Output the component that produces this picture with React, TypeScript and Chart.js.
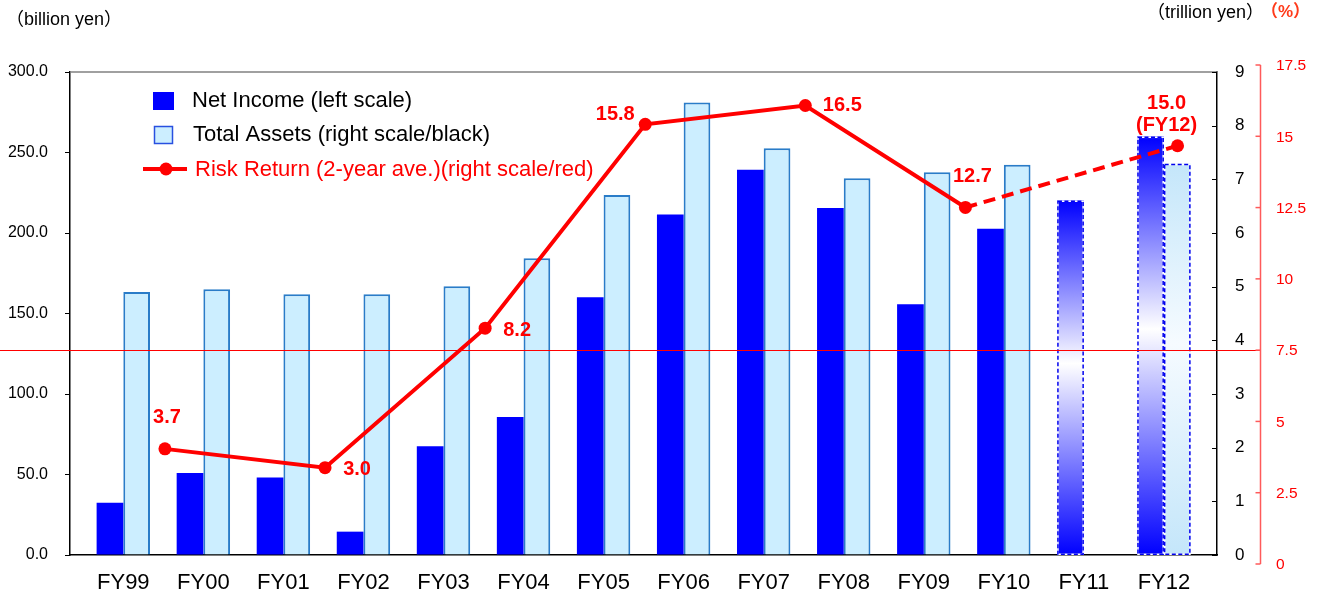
import { useEffect, useRef } from 'react';
import { Chart, registerables } from 'chart.js';

Chart.register(...registerables);

// ---- data ----
const categories = ['FY99', 'FY00', 'FY01', 'FY02', 'FY03', 'FY04', 'FY05', 'FY06', 'FY07', 'FY08', 'FY09', 'FY10', 'FY11', 'FY12'];
// Net income, billion yen (left scale)
const netIncome = [32.4, 51.0, 48.1, 14.5, 67.5, 85.7, 160.1, 211.5, 239.3, 215.6, 155.8, 202.6, 220.2, 259.9];
// Total assets, trillion yen (right scale / black)
const totalAssets = [4.9, 4.95, 4.86, 4.86, 5.01, 5.53, 6.71, 8.43, 7.58, 7.02, 7.13, 7.27, null, 7.29];
// FY11 onward are plan figures
const planFromIndex = 12;
// Risk return (2-year average), % — placed between the two fiscal years averaged
const riskX = [0.52, 2.52, 4.52, 6.52, 8.52, 10.52, 13.17];
const riskReturn = [3.7, 3.0, 8.2, 15.8, 16.5, 12.7, 15.0];
const riskLabels = [['3.7'], ['3.0'], ['8.2'], ['15.8'], ['16.5'], ['12.7'], ['15.0', '(FY12)']];
// Red % axis
const percentTicks = [0, 2.5, 5, 7.5, 10, 12.5, 15, 17.5];
const percentMax = 17.5;
const percentBenchmark = 7.5;

// ---- presentation ----
const FONT = '"Liberation Sans", Arial, "Noto Sans CJK JP", sans-serif';
const labelOffsets: [number, number][] = [[2, -31], [32, 2], [32, 2], [-30, -10], [37, 0], [7, -31], [-11, -42]];

function planFill(c: any, axis: string, edge: string, mid: string) {
  const chart = c.chart;
  const raw = c.raw as { y: number | null } | undefined;
  if (!chart.chartArea || !raw || raw.y == null) return edge;
  const s = chart.scales[axis];
  const top = s.getPixelForValue(raw.y);
  const bottom = s.getPixelForValue(0);
  const g = chart.ctx.createLinearGradient(0, top, 0, bottom);
  g.addColorStop(0, edge);
  g.addColorStop(0.46, mid);
  g.addColorStop(1, edge);
  return g;
}

function percentPixel(area: any, v: number) {
  const zero = area.bottom + 9;
  const top = area.top - 7;
  return zero - (v / percentMax) * (zero - top);
}

const overlay = {
  id: 'overlay',
  beforeDatasetDraw(chart: any, args: any) {
    if (args.meta.type !== 'line') return;
    const { ctx, chartArea: area } = chart;
    const y = Math.round(percentPixel(area, percentBenchmark)) + 0.5;
    ctx.save();
    ctx.strokeStyle = '#ff0000';
    ctx.lineWidth = 1;
    ctx.beginPath();
    ctx.moveTo(0, y);
    ctx.lineTo(area.right + 43, y);
    ctx.stroke();
    ctx.restore();
  },
  afterDatasetDraw(chart: any, args: any) {
    if (args.meta.type !== 'bar') return;
    const { ctx } = chart;
    const ds = chart.data.datasets[args.index];
    args.meta.data.forEach((el: any, i: number) => {
      if (i < planFromIndex) return;
      const raw = ds.data[i];
      if (!raw || raw.y == null) return;
      const { x, y, base, width } = el.getProps(['x', 'y', 'base', 'width'], true);
      const l = x - width / 2 + 0.75;
      const r = x + width / 2 - 0.75;
      ctx.save();
      ctx.lineWidth = 1.5;
      ctx.strokeStyle = '#ffffff';
      ctx.strokeRect(l, y + 0.75, r - l, base - y - 1);
      ctx.setLineDash([4, 2.5]);
      ctx.strokeStyle = '#0000ee';
      ctx.strokeRect(l, y + 0.75, r - l, base - y - 1);
      ctx.restore();
    });
  },
  afterDraw(chart: any) {
    const { ctx, chartArea: area } = chart;
    ctx.save();

    // top frame line
    ctx.strokeStyle = '#808080';
    ctx.lineWidth = 1.5;
    ctx.beginPath();
    ctx.moveTo(area.left, area.top);
    ctx.lineTo(area.right, area.top);
    ctx.stroke();

    // inner tick marks of the trillion-yen axis
    const y2 = chart.scales.y2;
    ctx.strokeStyle = '#000';
    ctx.lineWidth = 1;
    y2.ticks.forEach((t: any) => {
      const py = Math.round(y2.getPixelForValue(t.value)) + 0.5;
      ctx.beginPath();
      ctx.moveTo(area.right - 5, py);
      ctx.lineTo(area.right, py);
      ctx.stroke();
    });

    // red % axis
    const ax = area.right + 43.5;
    ctx.strokeStyle = '#ff5a5a';
    ctx.lineWidth = 1.5;
    ctx.beginPath();
    ctx.moveTo(ax, percentPixel(area, 0));
    ctx.lineTo(ax, percentPixel(area, percentMax));
    ctx.stroke();
    ctx.fillStyle = '#ff0000';
    ctx.font = `15.5px ${FONT}`;
    ctx.textAlign = 'left';
    ctx.textBaseline = 'middle';
    percentTicks.forEach((v) => {
      const py = percentPixel(area, v);
      ctx.beginPath();
      ctx.moveTo(ax - 5, py);
      ctx.lineTo(ax, py);
      ctx.stroke();
      ctx.fillText(String(v), ax + 15.5, py + 1);
    });

    // axis unit titles
    ctx.font = `18px ${FONT}`;
    ctx.fillStyle = '#000';
    ctx.fillText('（billion yen）', 6, 20);
    ctx.fillText('（trillion yen）', area.right - 70, 13);
    ctx.font = `bold 17px ${FONT}`;
    ctx.fillStyle = '#ff3a1a';
    ctx.fillText('（%）', area.right + 44, 12);

    // legend
    const lx = area.left;
    const ly = area.top;
    ctx.fillStyle = '#0000ff';
    ctx.fillRect(lx + 83, ly + 20, 21, 18);
    ctx.fillStyle = '#cceeff';
    ctx.fillRect(lx + 84, ly + 54, 19, 18);
    ctx.strokeStyle = '#2850e0';
    ctx.lineWidth = 1.5;
    ctx.strokeRect(lx + 84.5, ly + 54.5, 18, 17);
    ctx.strokeStyle = '#ff0000';
    ctx.lineWidth = 4;
    ctx.beginPath();
    ctx.moveTo(lx + 73, ly + 97);
    ctx.lineTo(lx + 117, ly + 97);
    ctx.stroke();
    ctx.fillStyle = '#ff0000';
    ctx.beginPath();
    ctx.arc(lx + 96, ly + 97, 6.5, 0, Math.PI * 2);
    ctx.fill();
    ctx.font = `22px ${FONT}`;
    ctx.fillStyle = '#000';
    ctx.fillText('Net Income (left scale)', lx + 122, ly + 29);
    ctx.fillText('Total Assets (right scale/black)', lx + 123, ly + 63);
    ctx.fillStyle = '#ff0000';
    ctx.fillText('Risk Return (2-year ave.)(right scale/red)', lx + 125, ly + 98);

    // value labels on the risk-return line
    const meta = chart.getDatasetMeta(2);
    ctx.font = `bold 20px ${FONT}`;
    ctx.fillStyle = '#ff0000';
    ctx.textAlign = 'center';
    meta.data.forEach((pt: any, i: number) => {
      const [dx, dy] = labelOffsets[i];
      riskLabels[i].forEach((line, k) => {
        ctx.fillText(line, pt.x + dx, pt.y + dy + k * 22);
      });
    });

    ctx.restore();
  },
};

export default function App() {
  const ref = useRef<HTMLCanvasElement>(null);

  useEffect(() => {
    document.body.style.margin = '0';
    const canvas = ref.current;
    if (!canvas) return;

    const chart = new Chart(canvas, {
      data: {
        datasets: [
          {
            type: 'bar',
            label: 'Net Income (left scale)',
            yAxisID: 'y',
            order: 1,
            data: categories.map((_, i) => ({ x: i, y: netIncome[i] })),
            backgroundColor: (c: any) => (c.dataIndex >= planFromIndex ? planFill(c, 'y', '#0000ff', '#ffffff') : '#0000ff'),
            borderWidth: 0,
            categoryPercentage: 0.667,
            barPercentage: 1,
          },
          {
            type: 'bar',
            label: 'Total Assets (right scale/black)',
            yAxisID: 'y2',
            order: 1,
            data: categories.map((_, i) => ({ x: i, y: totalAssets[i] })),
            backgroundColor: (c: any) => (c.dataIndex >= planFromIndex ? planFill(c, 'y2', '#c4e6fa', '#f6fbff') : '#cceeff'),
            borderColor: '#2a7cc8',
            borderWidth: (c: any) => (c.dataIndex >= planFromIndex ? 0 : 2),
            borderSkipped: 'bottom',
            categoryPercentage: 0.667,
            barPercentage: 1,
          },
          {
            type: 'line',
            label: 'Risk Return (2-year ave.)(right scale/red)',
            yAxisID: 'yR',
            order: 0,
            data: riskX.map((x, i) => ({ x, y: riskReturn[i] })),
            borderColor: '#ff0000',
            borderWidth: 4,
            pointRadius: 6.5,
            pointHoverRadius: 6.5,
            pointBackgroundColor: '#ff0000',
            pointBorderWidth: 0,
            tension: 0,
            clip: false,
            segment: {
              borderDash: (s: any) => (s.p0DataIndex >= riskReturn.length - 2 ? [12, 7] : undefined),
            },
          },
        ] as any,
      },
      options: {
        animation: false,
        responsive: false,
        events: [],
        layout: { padding: { top: 72, left: 0, right: 0, bottom: 0 } },
        plugins: { legend: { display: false }, tooltip: { enabled: false } },
        scales: {
          x: {
            type: 'linear',
            min: -0.666,
            max: 13.663,
            bounds: 'data',
            offset: false,
            afterBuildTicks: (s: any) => {
              s.ticks = categories.map((_, i) => ({ value: i }));
            },
            afterFit: (s: any) => {
              s.height = 40;
            },
            grid: { display: false, drawTicks: false, offset: false },
            border: { display: true, color: '#000', width: 1.5 },
            ticks: {
              autoSkip: false,
              maxRotation: 0,
              padding: 15,
              color: '#000',
              font: { family: FONT, size: 22 },
              callback: (v: any) => categories[v] ?? '',
            },
          },
          y: {
            position: 'left',
            min: 0,
            max: 300,
            afterFit: (s: any) => {
              s.width = 70;
            },
            grid: { drawOnChartArea: false, tickLength: 5, color: '#000' },
            border: { display: true, color: '#000', width: 1.5 },
            ticks: {
              stepSize: 50,
              padding: 17,
              color: '#000',
              font: { family: FONT, size: 16 },
              callback: (v: any) => Number(v).toFixed(1),
            },
          },
          y2: {
            position: 'right',
            min: 0,
            max: 9,
            afterFit: (s: any) => {
              s.width = 102;
            },
            grid: { drawOnChartArea: false, drawTicks: false },
            border: { display: true, color: '#000', width: 1.5 },
            ticks: {
              stepSize: 1,
              padding: 18,
              color: '#000',
              font: { family: FONT, size: 17 },
            },
          },
          yR: { display: false, min: -0.257, max: 17.75 },
        },
      } as any,
      plugins: [overlay],
    });

    return () => chart.destroy();
  }, []);

  return (
    <div style={{ width: 1319, height: 595 }}>
      <canvas ref={ref} width={1319} height={595} style={{ display: 'block' }} />
    </div>
  );
}
